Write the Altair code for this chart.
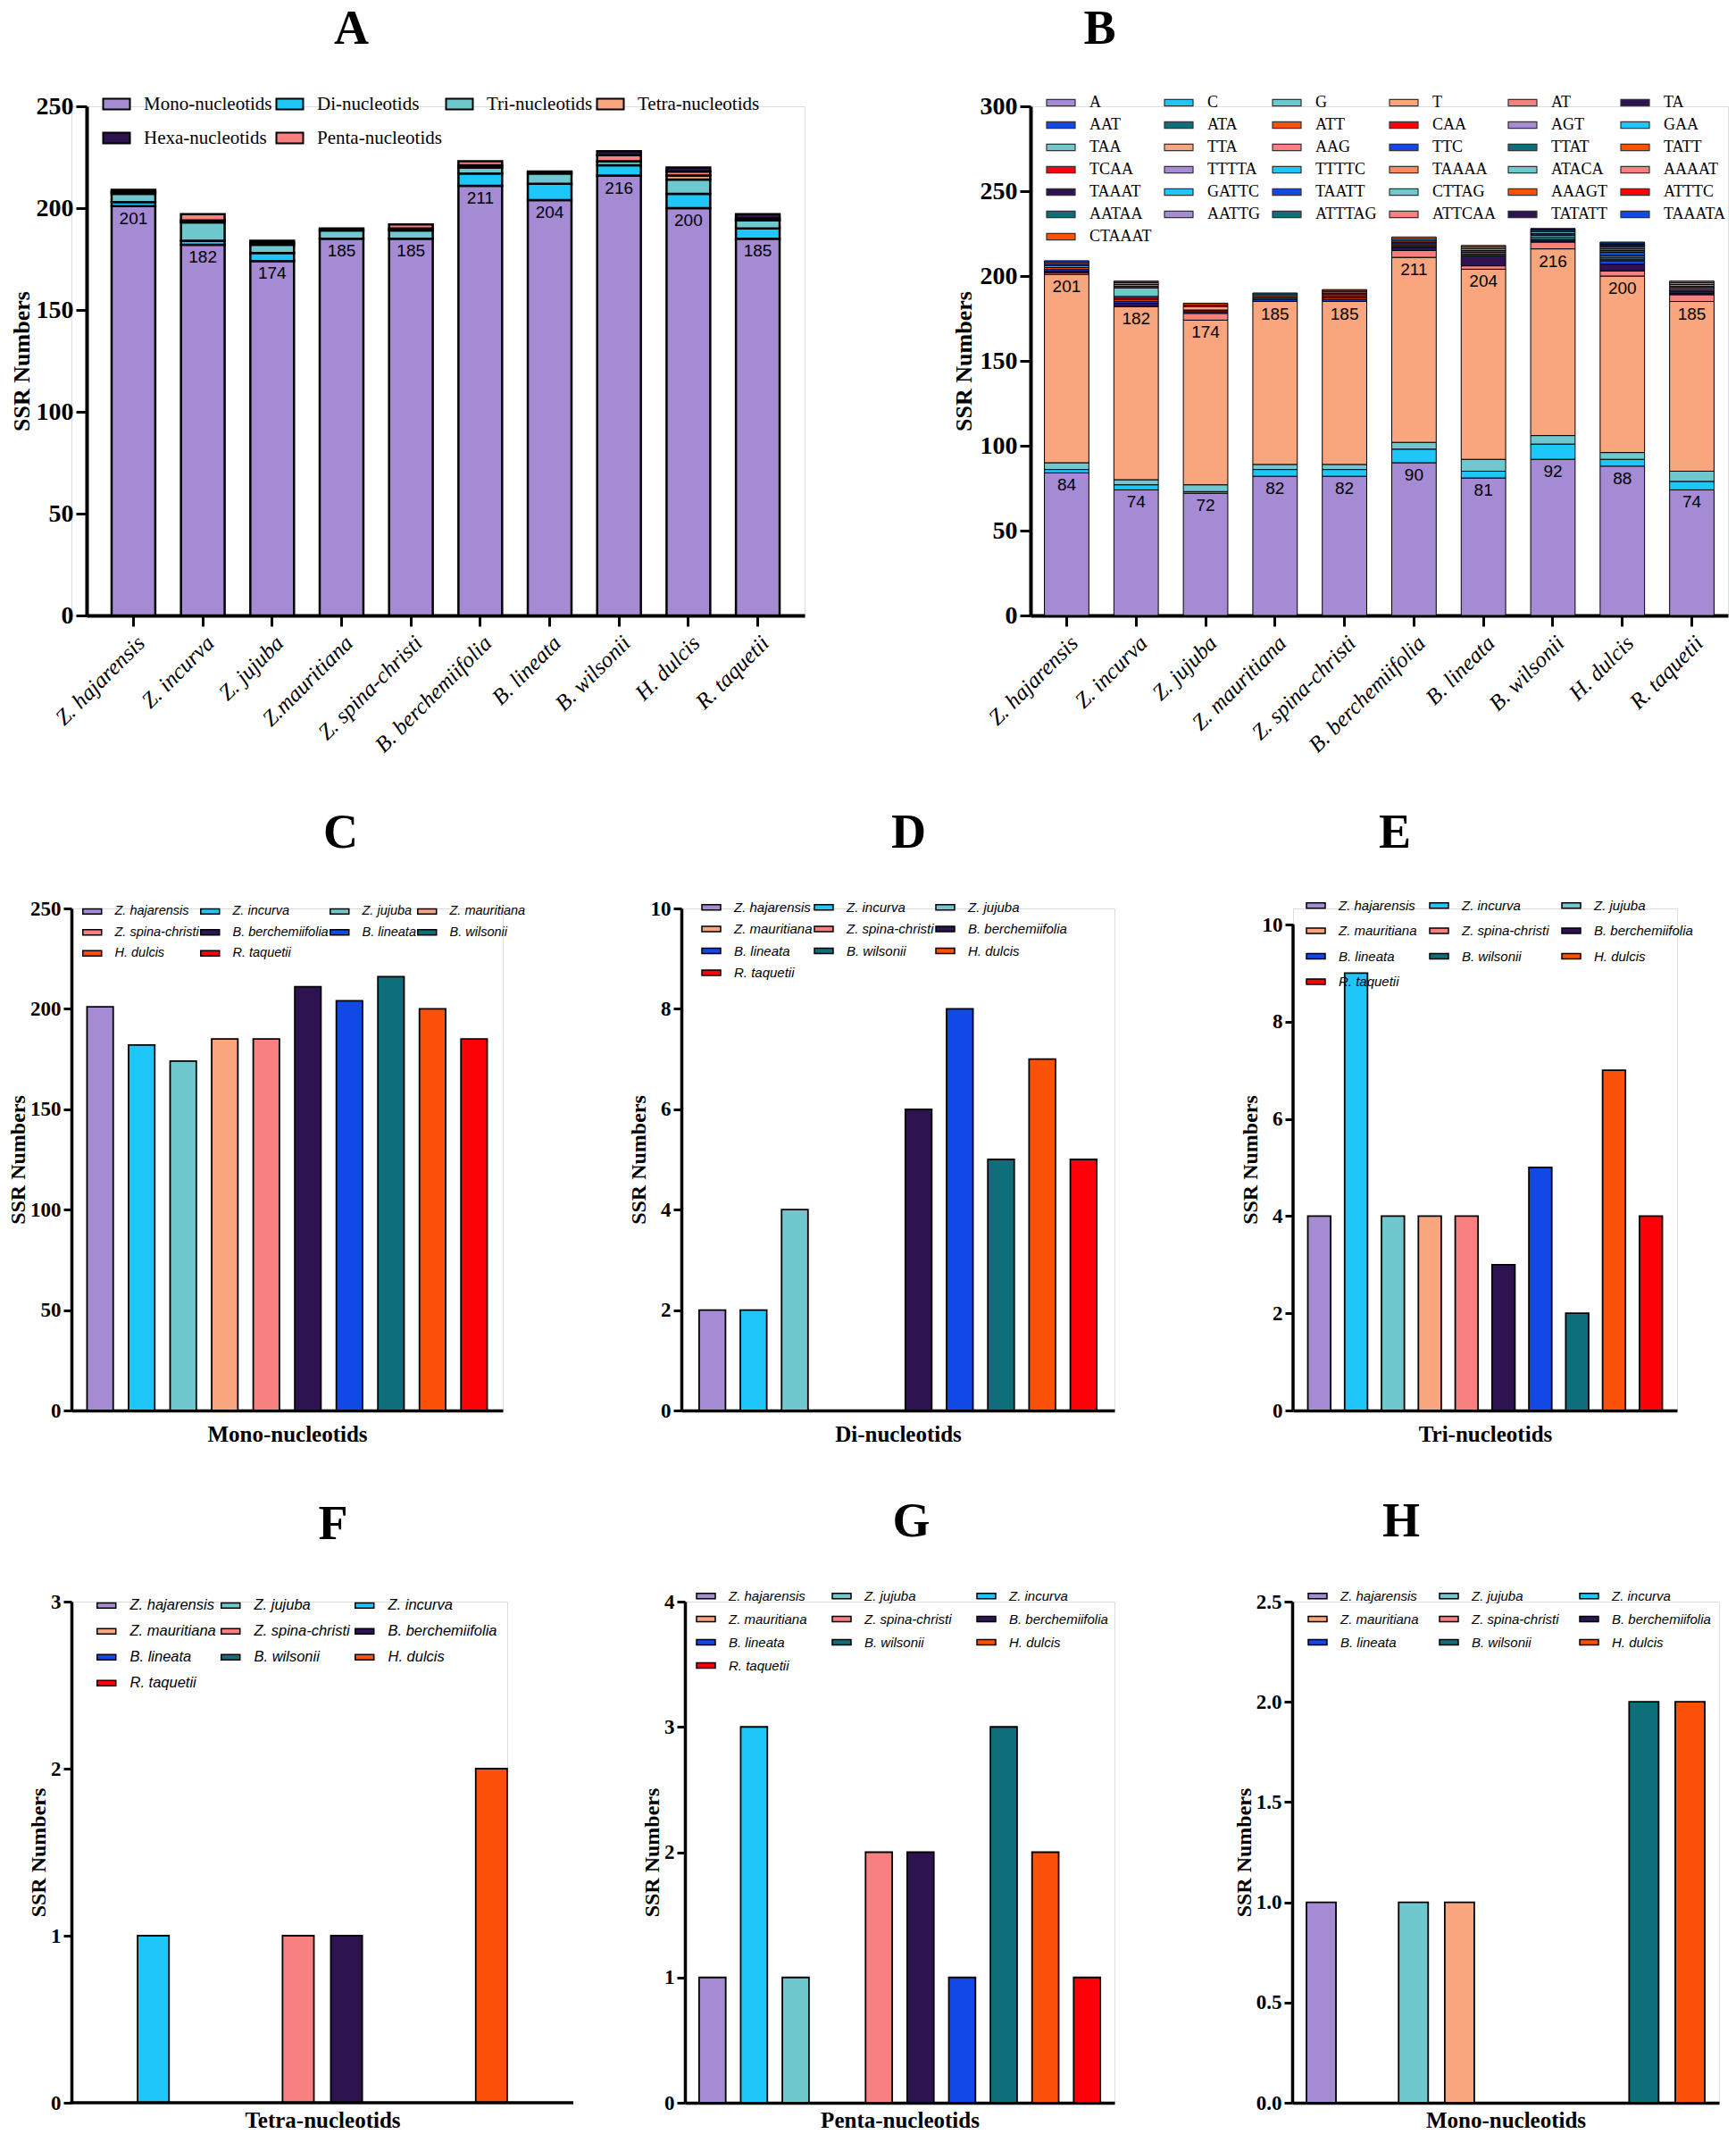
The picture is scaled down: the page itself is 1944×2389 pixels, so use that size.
import altair as alt
import pandas as pd

SERIF = "Liberation Serif"
SANS = "Liberation Sans"

# ---------------- data ----------------
species = ["Z. hajarensis", "Z. incurva", "Z. jujuba", "Z. mauritiana", "Z. spina-christi",
           "B. berchemiifolia", "B. lineata", "B. wilsonii", "H. dulcis", "R. taquetii"]
labels_A = ["Z. hajarensis", "Z. incurva", "Z. jujuba", "Z.mauritiana", "Z. spina-christi",
            "B. berchemiifolia", "B. lineata", "B. wilsonii", "H. dulcis", "R. taquetii"]
species_colors = ["#A48BD4", "#1EC6FA", "#70C8CF", "#F9A57E", "#F88080",
                  "#2D1450", "#1249E6", "#0E6E7A", "#FB5007", "#FC0107"]

mono = [201, 182, 174, 185, 185, 211, 204, 216, 200, 185]
di = [2, 2, 4, 0, 0, 6, 8, 5, 7, 5]
tri = [4, 9, 4, 4, 4, 3, 5, 2, 7, 4]
tetra = [0, 1, 0, 0, 1, 1, 0, 0, 2, 0]
penta = [1, 3, 1, 0, 2, 2, 1, 3, 2, 1]
hexa = [1, 0, 1, 1, 0, 0, 0, 2, 2, 2]
hexa_H = [1, 0, 1, 1, 0, 0, 0, 2, 2]  # panel H has no R. taquetii

types_stack = ["Mono-nucleotids", "Di-nucleotids", "Tri-nucleotids", "Tetra-nucleotids",
               "Penta-nucleotids", "Hexa-nucleotids"]
types_legend = ["Mono-nucleotids", "Di-nucleotids", "Tri-nucleotids", "Tetra-nucleotids",
                "Hexa-nucleotids", "Penta-nucleotids"]
types_colors = ["#A48BD4", "#1EC6FA", "#70C8CF", "#F9A57E", "#2D1450", "#F88080"]

# panel B: motif counts per species (stack order bottom -> top)
mono_motifs = ["A", "C", "G", "T"]
mono_counts = [[84, 74, 72, 82, 82, 90, 81, 92, 88, 74],
               [2, 3, 1, 4, 4, 8, 4, 9, 4, 5],
               [4, 3, 4, 3, 3, 4, 7, 5, 4, 6],
               [111, 102, 97, 96, 96, 109, 112, 110, 104, 100]]
di_motifs = ["AT", "TA"]
di_counts = [[1, 0, 4, 0, 0, 4, 2, 4, 3, 4],
             [1, 2, 0, 0, 0, 2, 6, 1, 4, 1]]
tri_motifs = ["AAT", "ATA", "ATT", "CAA", "AGT", "GAA", "TAA", "TTA", "AAG", "TTC"]
tri_counts = [[1, 1, 1, 1, 1, 1, 0, 0, 2, 1],
              [0, 0, 0, 1, 0, 0, 1, 1, 1, 0],
              [1, 1, 0, 1, 1, 1, 1, 0, 0, 0],
              [0, 1, 1, 0, 1, 0, 1, 0, 0, 1],
              [0, 1, 0, 0, 0, 0, 0, 0, 0, 1],
              [0, 0, 0, 0, 0, 0, 0, 0, 1, 0],
              [1, 5, 0, 1, 0, 0, 1, 1, 1, 0],
              [0, 0, 2, 0, 0, 0, 1, 0, 0, 0],
              [0, 0, 0, 0, 1, 0, 0, 0, 0, 0],
              [1, 0, 0, 0, 0, 1, 0, 0, 2, 1]]
tetra_motifs = ["TTAT", "TATT", "TCAA"]
tetra_counts = [[0, 0, 0, 0, 0, 0, 0, 0, 1, 0],
                [0, 0, 0, 0, 0, 1, 0, 0, 1, 0],
                [0, 1, 0, 0, 1, 0, 0, 0, 0, 0]]
penta_motifs = ["TTTTA", "TTTTC", "TAAAA", "ATACA", "AAAAT", "TAAAT", "GATTC", "TAATT",
                "CTTAG", "AAAGT", "ATTTC", "AATAA", "AATTG"]
penta_counts = [[0, 1, 0, 0, 0, 0, 0, 0, 0, 0],
                [0, 0, 0, 0, 0, 1, 0, 0, 0, 0],
                [1, 0, 0, 0, 0, 1, 0, 0, 0, 0],
                [0, 0, 0, 0, 0, 0, 0, 1, 0, 0],
                [0, 1, 0, 0, 1, 0, 0, 0, 0, 1],
                [0, 0, 0, 0, 0, 0, 0, 1, 0, 0],
                [0, 0, 0, 0, 0, 0, 0, 0, 1, 0],
                [0, 0, 0, 0, 0, 0, 0, 0, 1, 0],
                [0, 0, 0, 0, 0, 0, 0, 1, 0, 0],
                [0, 0, 0, 0, 0, 0, 1, 0, 0, 0],
                [0, 1, 1, 0, 1, 0, 0, 0, 0, 0],
                [0, 0, 0, 0, 0, 0, 0, 0, 0, 0],
                [0, 0, 0, 0, 0, 0, 0, 0, 0, 0]]
hexa_motifs = ["ATTTAG", "ATTCAA", "TATATT", "TAAATA", "CTAAAT"]
hexa_counts = [[0, 0, 0, 1, 0, 0, 0, 1, 0, 0],
               [0, 0, 0, 0, 0, 0, 0, 0, 0, 1],
               [0, 0, 0, 0, 0, 0, 0, 1, 1, 0],
               [1, 0, 0, 0, 0, 0, 0, 0, 1, 0],
               [0, 0, 1, 0, 0, 0, 0, 0, 0, 1]]
motif_colors = ["#A48BD4", "#1EC6FA", "#70C8CF", "#F9A57E", "#F88080", "#2D1450",
                "#1249E6", "#0E6E7A", "#FB5007", "#FC0107", "#A48BD4", "#1EC6FA",
                "#70C8CF", "#F9A57E", "#F88080", "#1249E6", "#0E6E7A", "#FB5007",
                "#FC0107", "#A48BD4", "#1EC6FA", "#FB8C5A", "#70C8CF", "#F88080",
                "#2D1450", "#1EC6FA", "#1249E6", "#70C8CF", "#FB5007", "#FC0107",
                "#0E6E7A", "#A48BD4", "#0E6E7A", "#F88080", "#2D1450", "#1249E6",
                "#FB5007"]

order_std = species
order_FG = ["Z. hajarensis", "Z. jujuba", "Z. incurva", "Z. mauritiana", "Z. spina-christi",
            "B. berchemiifolia", "B. lineata", "B. wilsonii", "H. dulcis", "R. taquetii"]
order_H = order_FG[:9]

color_of = dict(zip(species, species_colors))


def rect_path(hh):
    return f"M-2,-{hh}L2,-{hh}L2,{hh}L-2,{hh}Z"


def yaxis(values, fs_lab, fs_title, tick, fmt="d", domain=True, dw=3.5, offset=0, tpad=5):
    return alt.Axis(values=values, format=fmt, title="SSR Numbers", grid=False,
                    titleFont=SERIF, titleFontSize=fs_title, titleFontWeight="bold",
                    titleColor="black", titlePadding=tpad,
                    labelFont=SERIF, labelFontSize=fs_lab, labelFontWeight="bold",
                    labelColor="black", labelPadding=3, domain=domain,
                    domainColor="black", domainWidth=dw, offset=offset,
                    tickColor="black", tickWidth=3, tickSize=tick)


def marker(px):
    # invisible anchor that fixes the left extent of a row
    return alt.Chart(pd.DataFrame({"t": ["."]})).mark_text(
        opacity=0, align="left", fontSize=10).encode(
        x=alt.value(px), y=alt.value(100), text="t:N")


def title(letter, dx, offset):
    return alt.TitleParams(text=letter, font=SERIF, fontSize=54, fontWeight="bold",
                           color="black", anchor="middle", dx=dx, offset=offset,
                           frame="group")


def species_legend(lx, ly, cols, fs, row_pad, col_pad, grid="each"):
    return alt.Legend(orient="none", legendX=lx, legendY=ly, columns=cols,
                      direction="horizontal", gridAlign=grid, title=None,
                      symbolType=rect_path(0.57),
                      symbolSize=110, symbolStrokeColor="black", symbolStrokeWidth=1.5,
                      symbolOpacity=1, labelFont=SANS, labelFontSize=fs,
                      labelFontStyle="italic", labelColor="black", labelOffset=18,
                      rowPadding=row_pad, columnPadding=col_pad, labelLimit=0,
                      symbolLimit=0)


# ---------------- panel A ----------------
A_SHIFT = 17
A_W = 804
rows = []
vals_by_type = [mono, di, tri, tetra, penta, hexa]
for ti, t in enumerate(types_stack):
    for si, s in enumerate(labels_A):
        if vals_by_type[ti][si] > 0:
            rows.append({"sp": s, "type": t, "n": vals_by_type[ti][si], "ord": ti})
dfA = pd.DataFrame(rows)


def xaxis_rot():
    return alt.Axis(title=None, labelAngle=-45, labelFont=SERIF, labelFontStyle="italic",
                    labelFontSize=25, labelColor="black", domainColor="black",
                    domainWidth=4, tickColor="black", tickWidth=3, tickSize=12,
                    labelPadding=6)


barsA = alt.Chart(dfA).mark_bar(stroke="black", strokeWidth=2.5).encode(
    x=alt.X("sp:N", scale=alt.Scale(domain=labels_A, paddingInner=0.37, paddingOuter=0.36,
                                    range=[A_SHIFT, A_SHIFT + A_W]),
            axis=xaxis_rot()),
    y=alt.Y("sum(n):Q", stack="zero", scale=alt.Scale(domain=[0, 250], nice=False),
            axis=yaxis([0, 50, 100, 150, 200, 250], 28, 26, 12, dw=4, offset=-A_SHIFT,
                       tpad=3)),
    color=alt.Color("type:N", scale=alt.Scale(domain=types_legend, range=types_colors),
                    legend=alt.Legend(orient="none", legendX=23 + A_SHIFT, legendY=-13,
                                      columns=4, direction="horizontal", gridAlign="none",
                                      title=None, symbolType=rect_path(0.8), symbolSize=225,
                                      symbolStrokeColor="black", symbolStrokeWidth=2,
                                      symbolOpacity=1, labelFont=SERIF, labelFontSize=21,
                                      labelColor="black", labelOffset=20, rowPadding=16,
                                      columnPadding=0, labelLimit=0)),
    order=alt.Order("ord:Q"),
)
dfA_lab = pd.DataFrame({"sp": labels_A, "n": mono})
textA = alt.Chart(dfA_lab).mark_text(font=SANS, fontSize=19, color="black",
                                     baseline="top", dy=5).encode(
    x=alt.X("sp:N", scale=alt.Scale(domain=labels_A)), y="n:Q", text="n:Q")
panelA = alt.layer(barsA, textA).properties(
    width=A_W + A_SHIFT, height=570, title=title("A", -97, 45))

# ---------------- panel B ----------------
motifs = mono_motifs + di_motifs + tri_motifs + tetra_motifs + penta_motifs + hexa_motifs
counts = mono_counts + di_counts + tri_counts + tetra_counts + penta_counts + hexa_counts
rows = []
for mi, m in enumerate(motifs):
    for si, s in enumerate(species):
        if counts[mi][si] > 0:
            rows.append({"sp": s, "motif": m, "n": counts[mi][si], "ord": mi})
dfB = pd.DataFrame(rows)
barsB = alt.Chart(dfB).mark_bar(stroke="black", strokeWidth=1).encode(
    x=alt.X("sp:N", scale=alt.Scale(domain=species, paddingInner=0.36, paddingOuter=0.2),
            axis=xaxis_rot()),
    y=alt.Y("sum(n):Q", stack="zero", scale=alt.Scale(domain=[0, 300], nice=False),
            axis=yaxis([0, 50, 100, 150, 200, 250, 300], 28, 26, 12, dw=4)),
    color=alt.Color("motif:N", scale=alt.Scale(domain=motifs, range=motif_colors),
                    legend=alt.Legend(orient="none", legendX=25, legendY=-13, columns=6,
                                      direction="horizontal",
                                      title=None, symbolType=rect_path(0.45), symbolSize=256,
                                      symbolStrokeColor="#333333", symbolStrokeWidth=1.2,
                                      symbolOpacity=1, labelFont=SERIF, labelFontSize=18,
                                      labelColor="black", labelOffset=23, rowPadding=7,
                                      columnPadding=11, labelLimit=0, symbolLimit=0)),
    order=alt.Order("ord:Q"),
)
dfB_lab = pd.DataFrame({"sp": species + species,
                        "n": mono_counts[0] + mono,
                        "lab": mono_counts[0] + mono})
textB = alt.Chart(dfB_lab).mark_text(font=SANS, fontSize=19, color="black",
                                     baseline="top", dy=5).encode(
    x=alt.X("sp:N", scale=alt.Scale(domain=species)), y="n:Q", text="lab:Q")
panelB = alt.layer(barsB, textB).properties(width=781, height=570,
                                             title=title("B", -313, 45))


# ---------------- panels C-H ----------------
def species_panel(vals, bar_order, legend_order, ymax, yvals, fmt, xtitle, letter, dx,
                  width, height, pin, pout, legend, title_off, xrange=None, axis_top=None,
                  extra=None, xpad=9):
    df = pd.DataFrame({"sp": bar_order, "n": vals})
    df = df[df["n"] > 0]
    xscale = alt.Scale(domain=bar_order, paddingInner=pin, paddingOuter=pout)
    if xrange is not None:
        xscale = alt.Scale(domain=bar_order, paddingInner=pin, paddingOuter=pout,
                           range=[0, xrange])
    ydom = ymax if axis_top is None else axis_top
    bars = alt.Chart(df).mark_bar(stroke="black", strokeWidth=1.8).encode(
        x=alt.X("sp:N", scale=xscale,
                axis=alt.Axis(labels=False, ticks=False, title=xtitle, titleFont=SERIF,
                              titleFontSize=25, titleFontWeight="bold", titleColor="black",
                              titlePadding=xpad, domain=xrange is None,
                              domainColor="black", domainWidth=3.5)),
        y=alt.Y("n:Q", scale=alt.Scale(domain=[0, ydom], nice=False),
                axis=yaxis(yvals, 23, 24, 9, fmt, domain=axis_top is None, tpad=1)),
        color=alt.Color("sp:N",
                        scale=alt.Scale(domain=legend_order,
                                        range=[color_of[s] for s in legend_order]),
                        legend=legend),
    )
    layers = [bars]
    if axis_top is not None:
        dfr = pd.DataFrame({"a": [0], "b": [ymax]})
        layers.append(alt.Chart(dfr).mark_rule(color="black", strokeWidth=3.5).encode(
            x=alt.value(0), y="b:Q", y2="a:Q"))
    if xrange is not None:
        layers.append(alt.Chart(pd.DataFrame({"a": [0]})).mark_rule(
            color="black", strokeWidth=3.5).encode(
            x=alt.value(-1.5), x2=alt.value(xrange), y=alt.value(height)))
    if extra is not None:
        layers.append(extra)
    return alt.layer(*layers).properties(width=width, height=height,
                                         title=title(letter, dx, title_off))


panelC = species_panel(mono, order_std, order_std, 250, [0, 50, 100, 150, 200, 250], "d",
                       "Mono-nucleotids", "C", 60, 483, 562, 0.37, 0.375,
                       species_legend(16, -4, 4, 14.5, 8.5, -2), 46,
                       extra=marker(-77), xpad=14)
panelD = species_panel(di, order_std, order_std, 10, [0, 2, 4, 6, 8, 10], "d",
                       "Di-nucleotids", "D", 12, 485, 562, 0.36, 0.43,
                       species_legend(26, -9, 3, 15, 8.5, -1), 46, xpad=14)
panelE = species_panel(tri, order_std, order_std, 10, [0, 2, 4, 6, 8, 10], "d",
                       "Tri-nucleotids", "E", -101, 430, 562, 0.38, 0.4,
                       species_legend(18, -11, 3, 15, 12.5, 11), 46,
                       axis_top=10 * 562 / 544, xpad=14)
panelF = species_panel([tetra[species.index(s)] for s in order_std], order_std, order_FG, 3,
                       [0, 1, 2, 3], "d", "Tetra-nucleotids", "F", 49, 488, 561, 0.35, 0.37,
                       species_legend(31, -4, 3, 16.5, 12, 2), 48, xrange=562,
                       extra=marker(-77), xpad=7)
panelG = species_panel(penta, order_std, order_FG, 4, [0, 1, 2, 3, 4], "d",
                       "Penta-nucleotids", "G", 13, 481, 561, 0.36, 0.34,
                       species_legend(16, -14, 3, 15, 10, 25), 48, xpad=7)
panelH = species_panel(hexa_H, species[:9], order_H, 2.5, [0, 0.5, 1.0, 1.5, 2.0, 2.5], ".1f",
                       "Mono-nucleotids", "H", -117, 478, 561, 0.36, 0.31,
                       species_legend(21, -14, 3, 15, 10, 20), 48, xpad=7)


# ---------------- layout ----------------
def H(*charts, spacing):
    return alt.hconcat(*charts, spacing=spacing, bounds="flush").resolve_scale(
        color="independent", x="independent", y="independent")


top = H(panelA, panelB, spacing=253)
mid = H(panelC, panelD, panelE, spacing=200)
bot = H(panelF, panelG, panelH, spacing=199)

chart = alt.vconcat(top, mid, bot, spacing=57).resolve_scale(
    color="independent", x="independent", y="independent").configure_view(
    stroke=None).configure(padding={"left": -6, "top": -3, "right": 0, "bottom": 0},
                           background="white")

chart.save("out.html", embed_options={"renderer": "svg", "actions": False})
